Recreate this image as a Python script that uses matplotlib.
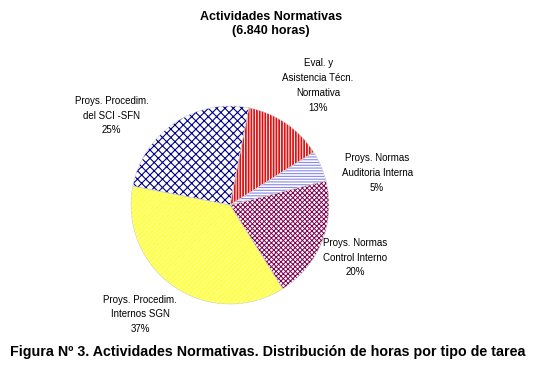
import numpy as np
import matplotlib
matplotlib.use("Agg")
import matplotlib.pyplot as plt

plt.rcParams['font.family'] = ['Liberation Sans', 'DejaVu Sans']

labels = ["Eval. y\nAsistencia Técn.\nNormativa",
          "Proys. Normas\nAuditoria Interna",
          "Proys. Normas\nControl Interno",
          "Proys. Procedim.\nInternos SGN",
          "Proys. Procedim.\ndel SCI -SFN"]
pcts = [13, 5, 20, 37, 25]

faces = ["white", "white", "white", "#ffff44", "white"]
hatch_cols = ["#dd1111", "#8888ee", "#800050", "#ffff99", "#000088"]
hatches = ["||||||", "------", "xxxxxxx", "///////", "xxxx"]
hatch_lw = [1.3, 0.8, 0.7, 0.9, 0.8]
# label placement (angle offset in degrees, radius factor)
lab_off = [-2, -11, -1, -5, 19]
lab_r = [1.5, 1.52, 1.37, 1.43, 1.5]

fig = plt.figure(figsize=(5.42, 3.72), dpi=100)
ax = fig.add_axes([(230 - 148.5) / 542, (167 - 148.5) / 372, 297 / 542, 297 / 372])

wedges, _ = ax.pie(pcts, startangle=79, counterclock=False, radius=1.0)
for w, fc, hc, h, lw in zip(wedges, faces, hatch_cols, hatches, hatch_lw):
    w.set_facecolor(fc)
    w.set_edgecolor(hc)
    w.set_hatch(h)
    w.set_linewidth(0)
    if hasattr(w, "set_hatch_linewidth"):
        w.set_hatch_linewidth(lw)
    else:
        w._hatch_linewidth = lw
# thin outline
ax.pie(pcts, startangle=79, counterclock=False, radius=1.0,
       wedgeprops=dict(fill=False, edgecolor="#cccccc", linewidth=0.4))

for w, lab, p, off, r in zip(wedges, labels, pcts, lab_off, lab_r):
    ang = np.deg2rad((w.theta1 + w.theta2) / 2 + off)
    ax.text(r * np.cos(ang), r * np.sin(ang), f"{lab}\n{p}%", ha="center", va="center",
            fontsize=7, linespacing=1.6)

ax.set_xlim(-1.5, 1.5)
ax.set_ylim(-1.5, 1.5)
ax.set_aspect("equal")
ax.axis("off")

fig.text(0.5, 1 - 24 / 372, "Actividades Normativas\n(6.840 horas)", ha="center", va="center",
         fontsize=9, fontweight="bold", linespacing=1.15)
fig.text(0.494, 1 - 352 / 372, "Figura Nº 3. Actividades Normativas. Distribución de horas por tipo de tarea",
         ha="center", va="center", fontsize=10.3, fontweight="bold")

fig.savefig("out.png", dpi=100)
